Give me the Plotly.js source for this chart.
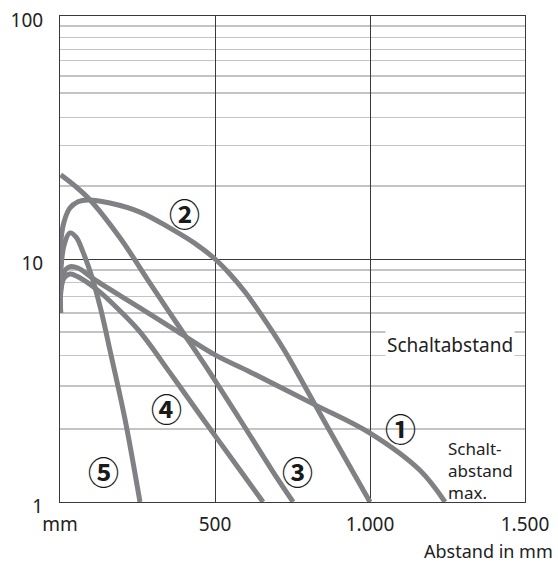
<!DOCTYPE html>
<html>
<head>
<meta charset="utf-8">
<script src="https://cdn.plot.ly/plotly-3.0.1.min.js"></script>
<style>html,body{margin:0;padding:0;background:#fff;}#chart{width:558px;height:562px;}</style>
</head>
<body>
<div id="chart"></div>
<script>
// Curve data: x = Abstand in mm, y = Funktionsreserve (log)
var curve1X = [2, 3, 13, 29, 58, 113, 258, 381, 500, 613, 823, 1000, 1161, 1242];
var curve1Y = [6.0, 7.6, 8.84, 9.27, 9.18, 8.2, 6.29, 5.01, 4.03, 3.43, 2.51, 1.92, 1.35, 1.0];

var curve2X = [2, 3.2, 12.9, 32, 58, 90, 161, 258, 355, 435, 500, 548, 597, 645, 723, 823, 919, 1000];
var curve2Y = [9.72, 11.97, 14.2, 16.2, 17.2, 17.5, 17.0, 15.6, 13.4, 11.6, 10.0, 8.68, 7.31, 6.0, 4.22, 2.51, 1.52, 1.0];

var curve3X = [2, 48, 97, 194, 290, 387, 484, 581, 684, 752];
var curve3Y = [22.2, 20.0, 17.5, 12.2, 7.96, 5.2, 3.40, 2.18, 1.35, 1.0];

var curve4X = [2, 3, 13, 32, 65, 129, 194, 258, 355, 452, 581, 655];
var curve4Y = [6.0, 7.46, 8.35, 8.68, 8.35, 7.31, 6.11, 5.01, 3.40, 2.28, 1.35, 1.0];

var curve5X = [2, 3, 13, 32, 52, 74, 103, 132, 161, 210, 258];
var curve5Y = [6.0, 9.01, 11.4, 12.8, 12.3, 10.7, 8.43, 6.17, 4.22, 2.18, 1.0];

var curveLabels = ["\u2460", "\u2461", "\u2462", "\u2463", "\u2464"];
var labelX = [1097, 403, 765, 345, 139];
var labelY = [2.02, 15.6, 1.35, 2.46, 1.35];

var xTickVals = [0, 500, 1000, 1500];
var xTickText = ["mm", "500", "1.000", "1.500"];
var yTickVals = [1, 10, 100];
var yTickText = ["1", "10", "100"];
var yMinorVals = [2, 3, 4, 5, 6, 7, 8, 9, 20, 29.3, 38.3, 48.2, 56.6, 65.7, 73, 81.4, 90.9];

var schaltabstand = 3.76;
var xTitle = "Abstand in mm";
var schaltText = "Schaltabstand";
var maxText = "Schalt-<br>abstand<br>max.";

var lineColor = "#808184";
var FONT = "Noto Sans, Liberation Sans, Arial, sans-serif";
var TXT = 19;

function mk(x, y) {
  return {x: x, y: y, type: "scatter", mode: "lines", hoverinfo: "skip",
    line: {color: lineColor, width: 5, shape: "spline", smoothing: 1}, showlegend: false};
}
var traces = [mk(curve1X, curve1Y), mk(curve2X, curve2Y), mk(curve3X, curve3Y), mk(curve4X, curve4Y), mk(curve5X, curve5Y)];

var annotations = [];
for (var i = 0; i < curveLabels.length; i++) {
  annotations.push({x: labelX[i], y: Math.log10(labelY[i]), xref: "x", yref: "y", text: curveLabels[i],
    showarrow: false, font: {family: "Noto Sans CJK JP", size: 31, color: "#1a1a1a", weight: 700},
    xanchor: "center", yanchor: "middle", borderpad: 0});
}
annotations.push({x: 1258, y: Math.log10(4.43), xref: "x", yref: "y", text: schaltText, showarrow: false,
  font: {family: FONT, size: TXT, color: "#222"}, bgcolor: "#fff", borderpad: 1, xanchor: "center", yanchor: "middle"});
annotations.push({x: 1248, y: Math.log10(1.345), xref: "x", yref: "y", text: maxText, showarrow: false, align: "left",
  font: {family: FONT, size: 17, color: "#222"}, xanchor: "left", yanchor: "middle", borderpad: 0});
annotations.push({x: 1.0645, y: -0.1, xref: "paper", yref: "paper", text: xTitle, showarrow: false,
  font: {family: FONT, size: 18, color: "#222"}, xanchor: "right", yanchor: "middle"});

var shapes = [
  // white gap in the fine grid behind label 1
  {type: "rect", xref: "x", yref: "y", x0: 1030, x1: 1165, y0: Math.log10(1.9), y1: Math.log10(2.12),
   fillcolor: "#fff", line: {width: 0}, layer: "between"},
  {type: "line", xref: "x", yref: "y", x0: 0, x1: 1500, y0: Math.log10(schaltabstand), y1: Math.log10(schaltabstand),
   line: {color: "#1a1a1a", width: 2.5}, layer: "between"},
  {type: "line", xref: "x", yref: "y", x0: 0, x1: 1500, y0: 0, y1: 0, line: {color: "#1a1a1a", width: 3}, layer: "above"}
];

var layout = {
  width: 558, height: 562,
  margin: {l: 60, r: 33, t: 16, b: 60},
  paper_bgcolor: "#fff", plot_bgcolor: "#fff",
  font: {family: FONT, size: TXT, color: "#222"},
  showlegend: false,
  xaxis: {range: [0, 1500], tickmode: "array", tickvals: xTickVals, ticktext: xTickText,
    showgrid: true, gridcolor: "#3a3a3a", gridwidth: 1, zeroline: false,
    showline: true, linecolor: "#3a3a3a", linewidth: 1, mirror: true, ticks: "", ticklabelstandoff: 5,
    tickfont: {family: FONT, size: TXT, color: "#222"}},
  yaxis: {type: "log", range: [0, 2], tickmode: "array", tickvals: yTickVals, ticktext: yTickText,
    showgrid: true, gridcolor: "#3a3a3a", gridwidth: 1, zeroline: false,
    showline: true, linecolor: "#3a3a3a", linewidth: 1, mirror: true, ticks: "", ticklabelstandoff: 12,
    ticklabelshift: 4, ticklabeloverflow: "allow",
    tickfont: {family: FONT, size: TXT, color: "#222"},
    minor: {tickmode: "array", tickvals: yMinorVals, showgrid: true, gridcolor: "#c4c4c4", gridwidth: 1.3, ticks: ""}},
  shapes: shapes,
  annotations: annotations
};

Plotly.newPlot("chart", traces, layout, {displayModeBar: false, staticPlot: true});
</script>
</body>
</html>
